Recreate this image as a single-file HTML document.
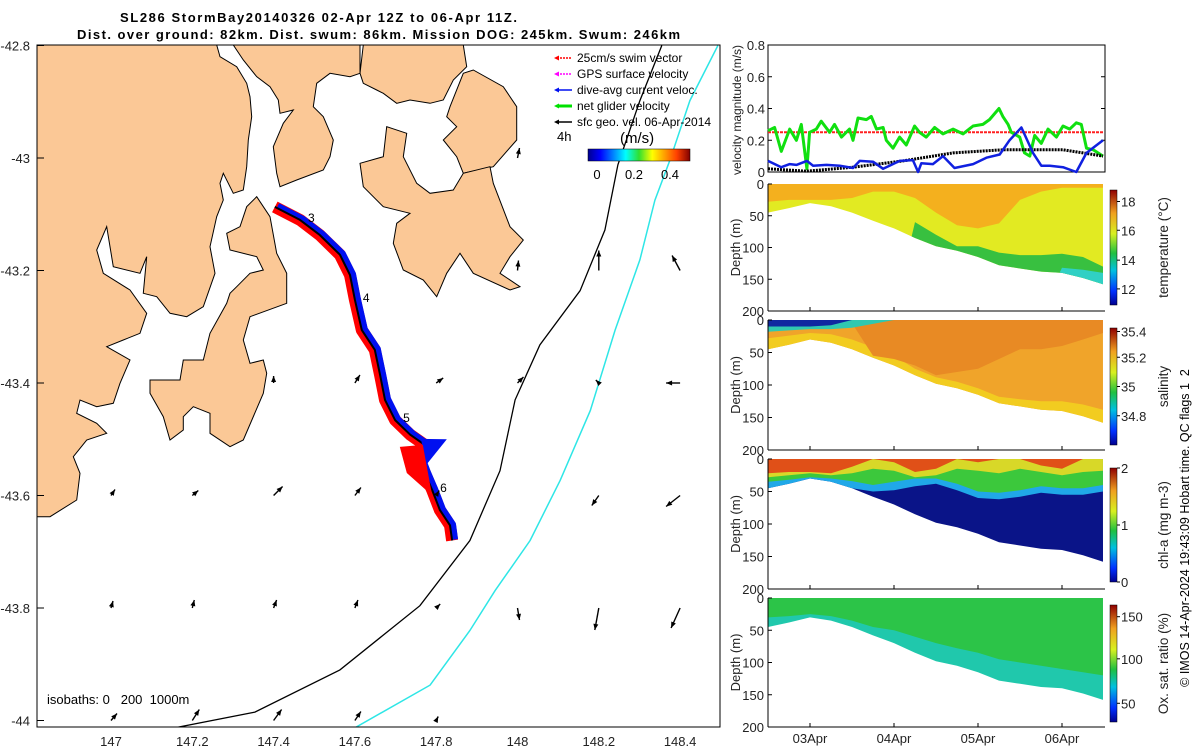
<!DOCTYPE html>
<html><head><meta charset="utf-8">
<style>
html,body{margin:0;padding:0;background:#fff;}
svg{display:block;font-family:"Liberation Sans","DejaVu Sans",sans-serif;}
</style></head>
<body>
<svg id="root" width="1200" height="750" viewBox="0 0 1200 750" xmlns="http://www.w3.org/2000/svg">
<defs>
<linearGradient id="jetH" x1="0" x2="1" y1="0" y2="0">
<stop offset="0" stop-color="#00008f"/><stop offset="0.12" stop-color="#0000ff"/><stop offset="0.37" stop-color="#00ffff"/><stop offset="0.5" stop-color="#30e030"/><stop offset="0.63" stop-color="#ffff00"/><stop offset="0.87" stop-color="#ff4000"/><stop offset="1" stop-color="#800000"/>
</linearGradient>
<linearGradient id="jetV" x1="0" x2="0" y1="1" y2="0">
<stop offset="0" stop-color="#00008f"/><stop offset="0.12" stop-color="#0030ff"/><stop offset="0.3" stop-color="#00c0e0"/><stop offset="0.45" stop-color="#20c040"/><stop offset="0.62" stop-color="#d8f020"/><stop offset="0.8" stop-color="#f0a020"/><stop offset="1" stop-color="#8f0000"/>
</linearGradient>
<clipPath id="mapclip"><rect x="37" y="45" width="683" height="682"/></clipPath>
</defs>

<text x="120" y="22" font-size="13" font-weight="bold" textLength="397">SL286 StormBay20140326 02-Apr 12Z to 06-Apr 11Z.</text>
<text x="77" y="39" font-size="13" font-weight="bold" textLength="603">Dist. over ground: 82km. Dist. swum: 86km. Mission DOG: 245km. Swum: 246km</text>

<g id="map">
  <g id="land" clip-path="url(#mapclip)"></g>
  <g id="isobaths" clip-path="url(#mapclip)"></g>
  <g id="track" clip-path="url(#mapclip)"></g>
  <g id="arrows" clip-path="url(#mapclip)"></g>
  <rect x="37" y="45" width="683" height="682" fill="none" stroke="#000" stroke-width="1"/>
  <g id="mapticks"></g>
  <text x="47" y="704" font-size="13" xml:space="preserve">isobaths: 0   200  1000m</text>
  <g>
    <g id="legend"></g>
    <text x="557" y="141" font-size="13">4h</text>
    <text x="620" y="143" font-size="15">(m/s)</text>
    <rect x="588" y="149" width="102" height="12" fill="url(#jetH)" stroke="#000" stroke-width="0.5"/>
    <text x="597" y="179" font-size="13" text-anchor="middle">0</text>
    <text x="634" y="179" font-size="13" text-anchor="middle">0.2</text>
    <text x="670" y="179" font-size="13" text-anchor="middle">0.4</text>
  </g>
</g>

<g id="vel"></g>
<g id="sections"></g>
<text transform="translate(1189,528) rotate(-90)" font-size="12.5" text-anchor="middle" xml:space="preserve">© IMOS 14-Apr-2024 19:43:09 Hobart time. QC flags 1  2</text>
</svg>

<script>
const NS='http://www.w3.org/2000/svg';
function mk(tag,attrs,parent){const e=document.createElementNS(NS,tag);for(const k in attrs)e.setAttribute(k,attrs[k]);parent.appendChild(e);return e;}

// ---------- MAP DATA ----------
const lonTicks=[147,147.2,147.4,147.6,147.8,148,148.2,148.4];
const latTicks=[-42.8,-43,-43.2,-43.4,-43.6,-43.8,-44];
const trackLon=[147.403,147.465,147.514,147.563,147.588,147.600,147.617,147.649,147.662,147.674,147.699,147.736,147.772,147.760,147.772,147.790,147.809,147.834,147.839];
const trackLat=[-43.087,-43.110,-43.137,-43.172,-43.208,-43.252,-43.306,-43.341,-43.386,-43.430,-43.466,-43.492,-43.510,-43.537,-43.560,-43.590,-43.626,-43.653,-43.680];
const iso200Lon=[147.157,147.354,147.563,147.760,147.883,147.957,147.994,148.055,148.154,148.215,148.247,148.301,148.355];
const iso200Lat=[-44.013,-43.985,-43.910,-43.796,-43.680,-43.556,-43.430,-43.332,-43.236,-43.128,-43.012,-42.898,-42.800];
const iso1000Lon=[147.600,147.785,147.883,147.945,148.031,148.105,148.179,148.240,148.301,148.338,148.375,148.424,148.493];
const iso1000Lat=[-44.013,-43.937,-43.840,-43.769,-43.680,-43.573,-43.449,-43.306,-43.181,-43.075,-43.004,-42.898,-42.800];
const arrLon=[148,148,148.2,148.4,147.4,147.6,147.8,148,148.2,148.4,147,147.2,147.4,147.6,147.8,148.2,148.4,147,147.2,147.4,147.6,147.8,148,148.2,148.4,147,147.2,147.4,147.6,147.8];
const arrLat=[-43,-43.2,-43.2,-43.2,-43.4,-43.4,-43.4,-43.4,-43.4,-43.4,-43.6,-43.6,-43.6,-43.6,-43.6,-43.6,-43.6,-43.8,-43.8,-43.8,-43.8,-43.8,-43.8,-43.8,-43.8,-44,-44,-44,-44,-44];
const arrU=[0.02,0.01,0,-0.08,0,0.05,0.07,0.06,-0.03,-0.14,0.04,0.06,0.09,0.06,0.03,-0.07,-0.14,0.02,0.02,0.03,0.03,0.04,0.02,-0.04,-0.09,0.06,0.07,0.08,0.06,0.02];
const arrV=[0.10,0.10,0.20,0.15,0.07,0.08,0.05,0.06,0.03,0,0.06,0.05,0.09,0.08,0.05,-0.10,-0.11,0.07,0.08,0.08,0.08,0.04,-0.12,-0.22,-0.20,0.07,0.11,0.11,0.09,0.04];

const lonX=lon=>111+(lon-147)*406.5;
const latY=lat=>158-(lat+43)*562.5;

const landShapes=[
 "36.7,45 216.7,45 220,56.7 236.7,66.7 246.7,83.3 250,96.7 251.7,116.7 248.3,140 246.7,166.7 243.3,190 233.3,193.3 223.3,173.3 220,183.3 223.3,200 216.7,216.7 210,246.7 215,273.3 203.3,306.7 186.7,316.7 170,313.3 156.7,296.7 143.3,293.3 146.7,256.7 140,273.3 113.3,266.7 106.7,226.7 96.7,250 103.3,273.3 130,290 146.7,313.3 140,333.3 123.3,340 106.7,346.7 130,360 120,383.3 113.3,403.3 96.7,406.7 80,400 76.7,413.3 96.7,423.3 106.7,433.3 86.7,440 73.3,456.7 80,473.3 76.7,500 50,516.7 36.7,516.7",
 "256.7,196.7 270,216.7 276.7,253.3 286.7,273.3 286.7,303.3 250,316.7 243.3,340 250,363.3 263.3,360 266.7,373.3 263.3,393.3 243.3,440 230,446.7 210,433.3 210,413.3 193.3,406.7 183.3,416.7 183.3,430 170,440 163.3,416.7 150,393.3 150,380 180,380 183.3,360 203.3,360 210,333.3 226.7,303.3 230,293.3 236.7,286.7 250,273.3 263.3,270 256.7,256.7 230,250 226.7,233.3 240,226.7 246.7,206.7",
 "233.3,45 243.3,60 256.7,76.7 270,86.7 278.3,100 280,113.3 293.3,110 283.3,123.3 273.3,146.7 276.7,173.3 280,186.7 296.7,180 323.3,170 330,156.7 333.3,140 323.3,116.7 313.3,106.7 316.7,83.3 330,73.3 350,76.7 360,73.3 360,45",
 "363.3,45 463.3,45 466.7,66.7 453.3,80 443.3,100 430,103.3 410,100 396.7,103.3 383.3,93.3 376.7,90 363.3,83.3 360,73.3",
 "450,106.7 463.3,73.3 473.3,70 503.3,86.7 516.7,106.7 516.7,140 493.3,166.7 463.3,173.3 456.7,156.7 443.3,140 456.7,126.7 446.7,116.7",
 "360,163.3 383.3,156.7 386.7,126.7 406.7,133.3 403.3,156.7 416.7,183.3 430,193.3 453.3,190 463.3,173.3 490,166.7 493.3,183.3 510,226.7 523.3,240 510,256.7 500,273.3 520,286.7 510,290 473.3,273.3 460,253.3 446.7,273.3 436.7,296.7 423.3,280 403.3,270 393.3,243.3 396.7,223.3 410,213.3 383.3,206.7 363.3,186.7"
];
const landG=document.getElementById('land');
landShapes.forEach((p,i)=>{
 const e=mk('polygon',{points:p,fill:'#fbc896',stroke:'#000','stroke-width':1},landG);
 
 
});

function lineFrom(lons,lats){return lons.map((l,i)=>lonX(l).toFixed(1)+','+latY(lats[i]).toFixed(1)).join(' ');}
const isoG=document.getElementById('isobaths');
let e=mk('polyline',{points:lineFrom(iso200Lon,iso200Lat),fill:'none',stroke:'#000','stroke-width':1.3},isoG);


e=mk('polyline',{points:lineFrom(iso1000Lon,iso1000Lat),fill:'none',stroke:'#2ee6e6','stroke-width':1.5},isoG);



const trG=document.getElementById('track');
const tp=lineFrom(trackLon,trackLat);
e=mk('polyline',{points:tp,fill:'none',stroke:'#ff0000','stroke-width':12,'stroke-linejoin':'round','stroke-linecap':'butt'},trG);


e=mk('polyline',{points:tp,fill:'none',stroke:'#0010f0','stroke-width':6,'stroke-linejoin':'round',transform:'translate(3,-1)'},trG);


e=mk('polyline',{points:tp,fill:'none',stroke:'#000','stroke-width':2,'stroke-linejoin':'round'},trG);


e=mk('polygon',{points:(lonX(147.772)-4)+','+(latY(-43.510)-6)+' '+(lonX(147.772)+22)+','+(latY(-43.500))+' '+(lonX(147.772)+2)+','+(latY(-43.537)+4),fill:'#0010f0'},trG);


e=mk('polygon',{points:(lonX(147.772)-25)+','+(latY(-43.510)+2)+' '+(lonX(147.772)-2)+','+(latY(-43.510))+' '+(lonX(147.790))+','+(latY(-43.600))+' '+(lonX(147.772)-18)+','+(latY(-43.560)),fill:'#ff0000'},trG);


const dayLabels=['3','4','5','6'];
const dayIdx=[1,5,10,15];
dayLabels.forEach((d,i)=>{
 const t=mk('text',{x:lonX(trackLon[dayIdx[i]])+8,y:latY(trackLat[dayIdx[i]])+2,'font-size':12},trG);
 t.textContent=d;
 
 
});

const arG=document.getElementById('arrows');
const ASC=100;
arrLon.forEach((lo,i)=>{
 const x0=lonX(lo),y0=latY(arrLat[i]);
 const x1=x0+arrU[i]*ASC,y1=y0-arrV[i]*ASC;
 const g=mk('g',{},arG);
 
 
 mk('line',{x1:x0,y1:y0,x2:x1,y2:y1,stroke:'#000','stroke-width':1.4},g);
 const a=Math.atan2(y1-y0,x1-x0);
 const hx=x1-6*Math.cos(a),hy=y1-6*Math.sin(a);
 mk('polygon',{points:`${x1},${y1} ${hx-2.5*Math.sin(a)},${hy+2.5*Math.cos(a)} ${hx+2.5*Math.sin(a)},${hy-2.5*Math.cos(a)}`,fill:'#000'},g);
});

const mt=document.getElementById('mapticks');
lonTicks.forEach(l=>{
 const t=mk('text',{x:lonX(l),y:746,'font-size':13,'text-anchor':'middle',fill:'#222'},mt);
 t.textContent=String(l);
 
 
});
latTicks.forEach(l=>{
 const y=latY(l);
 mk('line',{x1:37,y1:y,x2:44,y2:y,stroke:'#000'},mt);
 const t=mk('text',{x:30,y:y+5,'font-size':13,'text-anchor':'end',fill:'#222'},mt);
 t.textContent=String(l);
 
 
});

const legTexts=['25cm/s swim vector','GPS surface velocity','dive-avg current veloc.','net glider velocity','sfc geo. vel. 06-Apr-2014'];
const legColors=['#ff0000','#ff00ff','#0010f0','#00e000','#000000'];
const lg=document.getElementById('legend');
legTexts.forEach((s,i)=>{
 const y=62+i*16;
 const g=mk('g',{},lg);
 
 
 mk('line',{x1:557,y1:y-4,x2:572,y2:y-4,stroke:legColors[i],'stroke-width':i==3?3:1.5,'stroke-dasharray':i<2?'2,1':'none'},g);
 mk('polygon',{points:`554,${y-4} 559,${y-6.5} 559,${y-1.5}`,fill:legColors[i]},g);
 const t=mk('text',{x:577,y:y,'font-size':12},g);
 t.textContent=s;
});

// ---------- VELOCITY PANEL ----------
const greenH=[0,1.9,3.8,6.2,8.1,9.5,11.1,11.9,13.8,15.2,17.6,19,21,23.3,24.3,25.7,28.1,29.5,31,32.9,33.8,35.7,37.6,39.5,41.9,43.3,45.2,47.6,50,52.9,55.7,58.6,61.4,63.3,66,67.1,68.6,69.5,71.9,73.3,74.8,76.2,78.1,80,82.4,84.3,86.2,88.1,89.5,91,92.9,95.7];
const greenV=[0.26,0.28,0.13,0.27,0.20,0.30,0.02,0.25,0.27,0.32,0.25,0.30,0.22,0.27,0.20,0.34,0.33,0.35,0.27,0.28,0.20,0.15,0.22,0.17,0.29,0.25,0.22,0.28,0.24,0.27,0.24,0.29,0.30,0.33,0.40,0.35,0.30,0.25,0.22,0.12,0.10,0.23,0.18,0.27,0.22,0.29,0.27,0.31,0.30,0.15,0.14,0.10];
const blueH=[0,3.8,6.2,8.1,11.1,12.9,16.7,20.5,24.3,26.2,30,32.9,37.6,41.4,42.9,43.8,47.1,50,53.3,58.6,62.4,66.2,69,72.4,75.7,78.1,80.5,84.3,88.1,91,95.7];
const blueV=[0.07,0.03,0.05,0.045,0.07,0.04,0.045,0.04,0.025,0.07,0.065,0.02,0.07,0.075,0.0,0.055,0.05,0.10,0.025,0.05,0.09,0.11,0.20,0.28,0.12,0.04,0.04,0.03,0.0,0.12,0.20];
const blackH=[0,11,24.3,38.6,52.9,67.1,84.3,90,95.7];
const blackV=[0.02,0.005,0.03,0.07,0.12,0.14,0.14,0.12,0.10];
const swimV=0.25;
const velTicks=[0,0.2,0.4,0.6,0.8];
const dayTickH=[12,36,60,84];
const dayTickLabels=['03Apr','04Apr','05Apr','06Apr'];

const hx=h=>768+h*3.5;
const vy=v=>172-v*158.75;
const vel=document.getElementById('vel');
mk('rect',{x:768,y:45,width:337,height:127,fill:'none',stroke:'#000'},vel);
velTicks.forEach(v=>{
 mk('line',{x1:768,y1:vy(v),x2:772,y2:vy(v),stroke:'#000'},vel);
 mk('line',{x1:1101,y1:vy(v),x2:1105,y2:vy(v),stroke:'#000'},vel);
 const t=mk('text',{x:765,y:vy(v)+5,'font-size':13,'text-anchor':'end',fill:'#222'},vel);
 t.textContent=String(v);
 
 
});
let t=mk('text',{transform:'translate(741,110) rotate(-90)','font-size':12,'text-anchor':'middle',fill:'#222'},vel);
t.textContent='velocity magnitude (m/s)';


function series(H,V,color,w,name,dash){
 const el=mk('polyline',{points:H.map((h,i)=>hx(h).toFixed(1)+','+vy(V[i]).toFixed(1)).join(' '),fill:'none',stroke:color,'stroke-width':w,'stroke-linejoin':'round','stroke-dasharray':dash||'none'},vel);
 
 
}
series([0,95.7],[swimV,swimV],'#ff2020',2,'swim-speed-line','3,1');
series(greenH,greenV,'#10e010',3,'net-glider-velocity-line');
series(blackH,blackV,'#000',3,'surface-geo-velocity-line','2,1');
series(blueH,blueV,'#1020e0',2.5,'dive-avg-current-line');

// ---------- SECTIONS ----------
const T=[0,6,12,18,24,30,36,42,48,54,60,66,72,78,84,90,96];
const BOT=[45,38,30,35,45,58,70,85,98,105,115,128,133,138,140,148,158];
const depthTicks=[0,50,100,150,200];
const tempOrangeBot=[28,25,25,25,22,12,12,22,45,65,70,62,25,12,6,6,6];
const tempGreenTop=[200,200,200,200,200,200,200,60,80,98,98,108,112,112,110,115,130];
const tempCyanTop=[200,200,200,200,200,200,200,200,200,200,200,200,200,200,132,135,140];
const salYellowTop=[28,24,20,22,30,42,55,75,88,95,105,118,122,125,125,130,138];
const salDarkBot=[0,0,0,0,5,55,60,70,85,80,75,60,45,45,40,30,20];
const salBlueBot=[10,10,10,8,0,0,0,0,0,0,0,0,0,0,0,0,0];
const salGreenBot=[18,16,14,14,12,6,0,0,0,0,0,0,0,0,0,0,0];
const chlCyanBot=[48,40,34,40,45,50,48,42,38,48,60,62,58,52,55,55,50];
const chlGreenBot=[35,32,28,30,34,40,35,30,30,38,50,52,48,42,45,45,40];
const chlYellowBot=[28,25,22,25,22,15,18,28,25,15,18,22,15,20,25,20,18];
const chlRedBot=[22,20,20,22,12,0,5,20,15,0,5,0,0,10,15,0,0];
const oxGreenBot=[30,28,25,28,35,45,50,60,70,78,85,95,100,105,110,115,120];

const panels=[
 {name:'temperature',y0:184,h:127,base:'#e2ea22',layers:[[null,tempOrangeBot,'#f4b01e'],[tempGreenTop,null,'#38c040'],[tempCyanTop,null,'#30d0c4']],cb:[190,305],cbTicks:['12','14','16','18'],cbFrac:[0.14,0.39,0.65,0.9],label:'temperature (°C)'},
 {name:'salinity',y0:320,h:130,base:'#f0a42a',layers:[[salYellowTop,null,'#f2cc20'],[null,salDarkBot,'#e88a24'],[null,salGreenBot,'#30c8b0'],[null,salBlueBot,'#1028a0']],cb:[328,445],cbTicks:['34.8','35','35.2','35.4'],cbFrac:[0.25,0.5,0.75,0.97],label:'salinity'},
 {name:'chl-a',y0:459,h:130,base:'#0a1488',layers:[[null,chlCyanBot,'#20a8e8'],[null,chlGreenBot,'#3cc83c'],[null,chlYellowBot,'#d8d828'],[null,chlRedBot,'#e05018']],cb:[468,582],cbTicks:['0','1','2'],cbFrac:[0,0.5,1],label:'chl-a (mg m-3)'},
 {name:'oxygen',y0:598,h:129,base:'#20c8ac',layers:[[null,oxGreenBot,'#2cc448']],cb:[605,722],cbTicks:['50','100','150'],cbFrac:[0.16,0.54,0.9],label:'Ox. sat. ratio (%)'}
];
const secG=document.getElementById('sections');
panels.forEach((p,pi)=>{
 const g=mk('g',{},secG);
 
 
 const dy=d=>p.y0+d*p.h/200;
 const cid='clip'+pi;
 const cp=mk('clipPath',{id:cid},g);
 const water=T.map((h,i)=>hx(Math.min(h,95.7)).toFixed(1)+','+dy(BOT[i]).toFixed(1)).join(' ');
 mk('polygon',{points:hx(0)+','+dy(0)+' '+hx(95.7)+','+dy(0)+' '+water.split(' ').reverse().join(' ')},cp);
 const dg=mk('g',{'clip-path':`url(#${cid})`},g);
 mk('rect',{x:768,y:p.y0,width:337,height:p.h,fill:p.base},dg);
 p.layers.forEach(L=>{
  const top=L[0]||T.map(()=>0), bot=L[1]||T.map(()=>200);
  const up=T.map((h,i)=>hx(Math.min(h,95.7)).toFixed(1)+','+dy(top[i]).toFixed(1));
  const dn=T.map((h,i)=>hx(Math.min(h,95.7)).toFixed(1)+','+dy(bot[i]).toFixed(1)).reverse();
  const el=mk('polygon',{points:up.concat(dn).join(' '),fill:L[2]},dg);
  
  
 });
 mk('line',{x1:768,y1:p.y0,x2:768,y2:p.y0+p.h,stroke:'#000'},g);
 mk('line',{x1:768,y1:p.y0+p.h,x2:1105,y2:p.y0+p.h,stroke:'#000'},g);
 depthTicks.forEach(d=>{
  mk('line',{x1:768,y1:dy(d),x2:772,y2:dy(d),stroke:'#000'},g);
  const tt=mk('text',{x:764,y:dy(d)+5,'font-size':13,'text-anchor':'end',fill:'#222'},g);
  tt.textContent=String(d);
  
  
 });
 dayTickH.forEach(h=>mk('line',{x1:hx(h),y1:p.y0+p.h,x2:hx(h),y2:p.y0+p.h-4,stroke:'#000'},g));
 const yt=mk('text',{transform:`translate(740,${p.y0+p.h/2}) rotate(-90)`,'font-size':13,'text-anchor':'middle',fill:'#222'},g);
 yt.textContent='Depth (m)';
 
 
 const [c0,c1]=p.cb;
 const cb=mk('rect',{x:1110,y:c0,width:7,height:c1-c0,fill:'url(#jetV)',stroke:'#000','stroke-width':0.5},g);
 
 
 p.cbTicks.forEach((s,i)=>{
  const y=c1-p.cbFrac[i]*(c1-c0);
  mk('line',{x1:1117,y1:y,x2:1120,y2:y,stroke:'#000'},g);
  const tt=mk('text',{x:1121,y:y+5,'font-size':13,fill:'#222'},g);
  tt.textContent=s;
  
  
 });
 const cl=mk('text',{transform:`translate(1168,${(c0+c1)/2}) rotate(-90)`,'font-size':13.5,'text-anchor':'middle',fill:'#222'},g);
 cl.textContent=p.label;
 
 
});
dayTickLabels.forEach((s,i)=>{
 const tt=mk('text',{x:hx(dayTickH[i]),y:743,'font-size':13,'text-anchor':'middle',fill:'#222'},secG);
 tt.textContent=s;
 
 
});
</script>
</body></html>
